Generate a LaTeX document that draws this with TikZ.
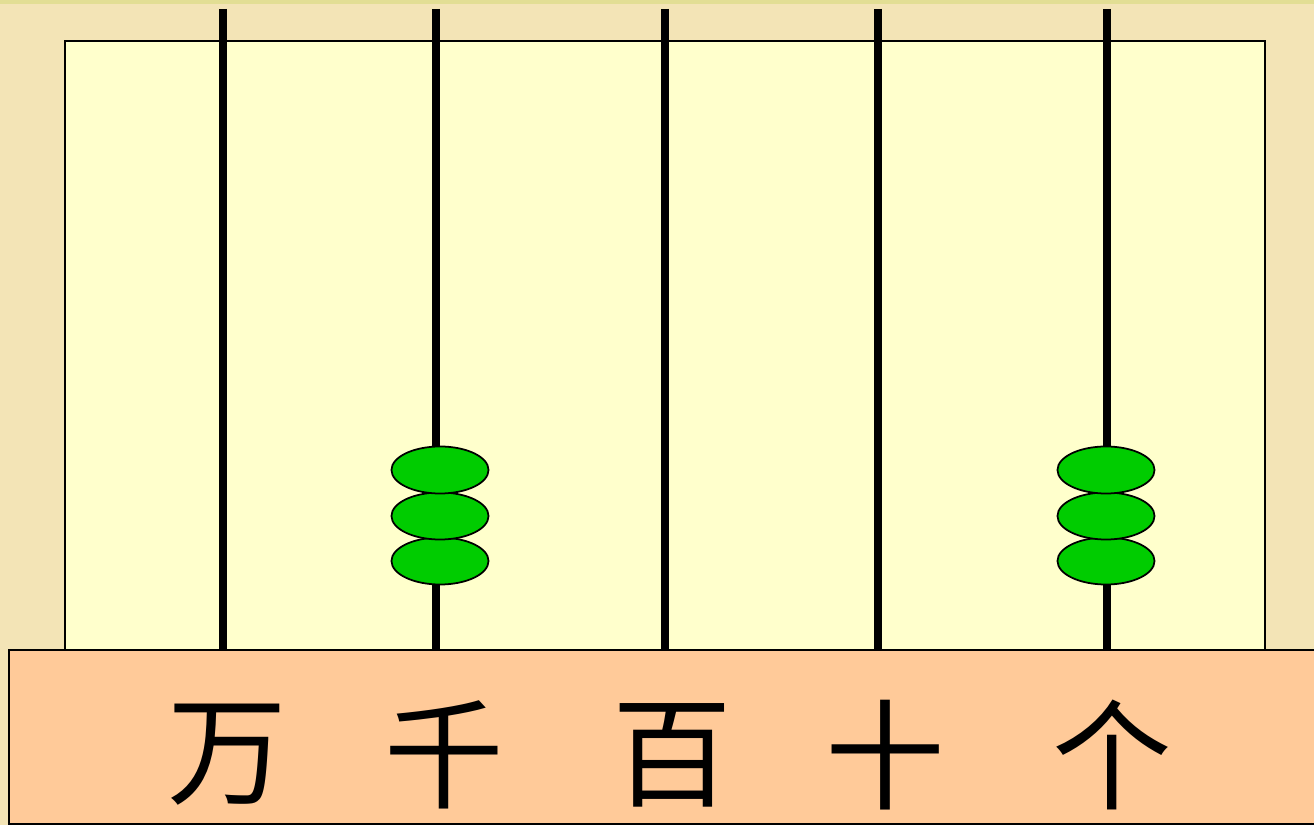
\documentclass[tikz,border=0pt]{standalone}
\usepackage{fontspec}
\usetikzlibrary{shapes.geometric}
\newfontfamily\cjk{Noto Sans CJK SC}
\definecolor{bgpaper}{HTML}{F3E4B6}
\definecolor{topband}{HTML}{E2DE94}
\definecolor{framefill}{HTML}{FFFFCC}
\definecolor{basefill}{HTML}{FFCA99}
\definecolor{beadgreen}{HTML}{00CC00}
\tikzset{
    rod/.style={line width=2.3pt},
    bead/.style={ellipse, draw, line width=0.5pt, fill=beadgreen, minimum width=0.97cm, minimum height=0.47cm, inner sep=0pt},
    place/.style={font=\cjk\fontsize{34}{34}\selectfont, inner sep=0pt}
}
\newcommand{\drawrod}[2]{
    % One rod, from the top down to the base
    \coordinate (top#1) at (#2,9);
    \coordinate (foot#1) at (#2,650);
    \draw[rod] (top#1) -- (foot#1);
}
\newcommand{\drawbeads}[2]{
    % Three beads on one rod
    \node[bead] (b#1a) at (#2,561) {};
    \node[bead] (b#1b) at (#2,516) {};
    \node[bead] (b#1c) at (#2,470) {};
}
\begin{document}
\begin{tikzpicture}[x=0.01cm,y=-0.01cm]
    \fill[bgpaper] (0,0) rectangle (1314,825);
    \useasboundingbox (0,0) rectangle (1314,825);
    \fill[topband] (0,0) rectangle (1314,4);
    % Frame
    \draw[fill=framefill, line width=0.5pt] (65,41) rectangle (1265,650);

    \drawrod{w}{223}
    \drawrod{q}{436}
    \drawrod{b}{665}
    \drawrod{s}{878}
    \drawrod{g}{1107}

    \drawbeads{q}{440}
    \drawbeads{g}{1106}

    % Base
    \draw[fill=basefill, line width=0.5pt] (9,650) rectangle (1320,824);
    \node[place] (wan) at (227,755) {万};
    \node[place] (qian) at (444,755) {千};
    \node[place] (bai) at (672,755) {百};
    \node[place] (shi) at (885,755) {十};
    \node[place] (ge) at (1112,755) {个};
\end{tikzpicture}
\end{document}
